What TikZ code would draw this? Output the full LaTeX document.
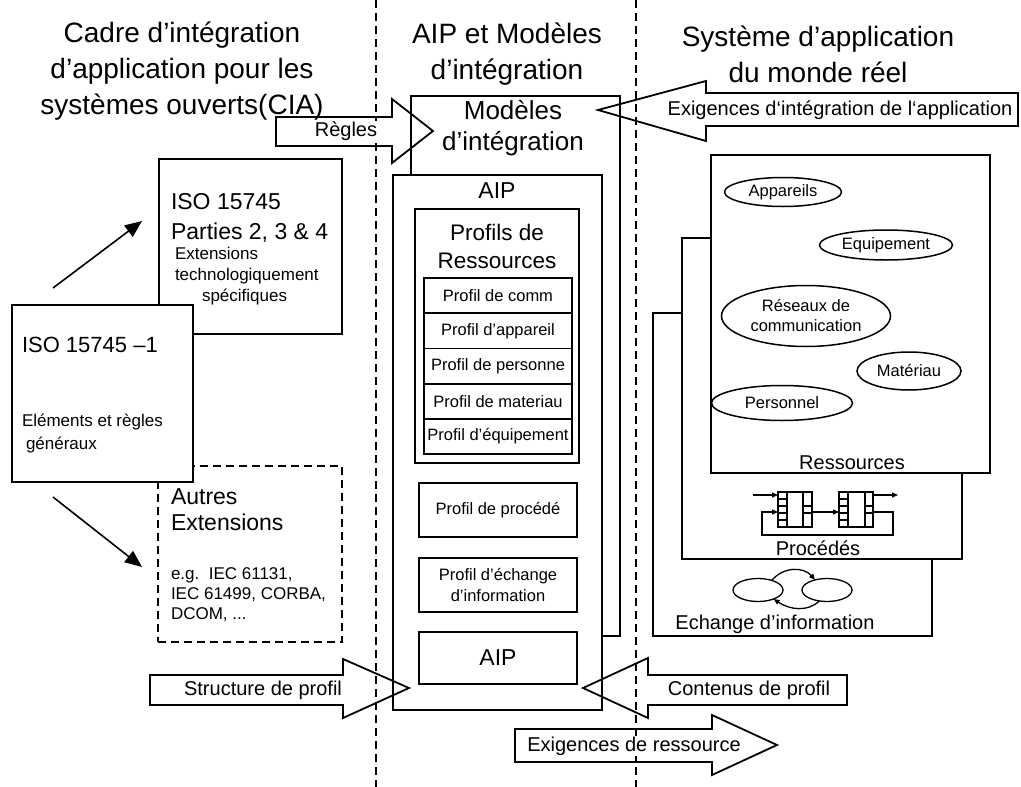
\documentclass[tikz,border=0pt]{standalone}
\usepackage{fontspec}
\setmainfont{Liberation Sans}
\usetikzlibrary{arrows.meta,shapes.geometric}
\newcommand{\fsz}[2]{\fontsize{#1}{#2}\selectfont}

\begin{document}
\begin{tikzpicture}[x=1pt,y=-1pt,inner sep=0pt,outer sep=0pt,
box/.style={draw,rectangle,line width=1.8pt,fill=white,inner sep=0pt},
dashbox/.style={box,dash pattern=on 8pt off 5pt},
sep/.style={line width=1.4pt,dash pattern=on 8pt off 5pt},
ell/.style={draw,ellipse,line width=1.5pt,fill=white,inner sep=0pt,font=\fsz{16.5}{20},align=center},
blockarrow/.style={draw,line width=1.8pt,line join=miter},
arrowlabel/.style={font=\fsz{20}{24},fill=white,inner sep=1pt},
title/.style={font=\fsz{28}{36},align=center},
profil/.style={box,minimum width=148pt,minimum height=35.2pt,font=\fsz{16.5}{20}},
bigarrow/.style={line width=1.6pt,-{Triangle[length=17pt,width=14pt]}},
icon/.style={line width=1.3pt},
tinyarrow/.style={icon,-{Triangle[length=6pt,width=5pt]}}]
\useasboundingbox (0,0) rectangle (1021,787);

% separations
\coordinate (sepL) at (376,0);
\coordinate (sepR) at (636,0);
\draw[sep] (sepL) -- (376,787);
\draw[sep] (sepR) -- (636,787);

% titles
\node[title] (titleL) at (182,71) {Cadre d’intégration\\d’application pour les\\systèmes ouverts(CIA)};
\node[title] (titleM) at (507,54) {AIP et Modèles\\d’intégration};
\node[title] (titleR) at (818,54) {Système d’application\\du monde réel};

% left column
\node[box,minimum width=183pt,minimum height=175pt] (parties) at (250.5,246.5) {};
\node[anchor=west,align=left,font=\fsz{23}{30}] (partiestitle) at (171,218) {ISO 15745\\Parties 2, 3 \& 4};
\node[anchor=west,align=left,font=\fsz{17}{21}] (partiestext) at (175,276) {Extensions\\technologiquement\\\hspace*{27pt}spécifiques};
\node[dashbox,minimum width=184pt,minimum height=176pt] (autres) at (250,554) {};
\node[anchor=west,align=left,font=\fsz{23}{26}] (autrestitle) at (171,510) {Autres\\Extensions};
\node[anchor=west,align=left,font=\fsz{17}{20}] (autrestext) at (171,595) {e.g.\ \ IEC 61131,\\IEC 61499, CORBA,\\DCOM, ...};
\node[box,minimum width=181pt,minimum height=177pt] (iso1) at (102.5,393.5) {};
\node[anchor=west,font=\fsz{22}{26}] (iso1title) at (22,345) {ISO 15745 –1};
\node[anchor=west,align=left,font=\fsz{17}{23}] (iso1text) at (22,434) {Eléments et règles\\\hspace*{4pt}généraux};
\coordinate (upS) at (53,288);
\coordinate (upE) at (142,221);
\coordinate (downS) at (53,497);
\coordinate (downE) at (142,567);
\draw[bigarrow] (upS) -- (upE);
\draw[bigarrow] (downS) -- (downE);

% middle column
\node[draw,line width=1.8pt,minimum width=209pt,minimum height=540pt] (modeles) at (515.5,366) {};
\node[font=\fsz{26}{31},align=center] (modelestext) at (513,128) {Modèles\\d’intégration};
\node[box,minimum width=209pt,minimum height=535pt] (aip) at (497.5,442.5) {};
\node[font=\fsz{23}{26}] (aiptitle) at (497,191) {AIP};
\node[box,minimum width=164pt,minimum height=254pt] (profils) at (497,336) {};
\node[font=\fsz{22.5}{28},align=center] (profilstext) at (497,246) {Profils de\\Ressources};
\node[profil] (comm) at (498,295.6) {Profil de comm};
\node[profil] (appareil) at (498,330.8) {Profil d’appareil};
\node[profil] (personne) at (498,366) {Profil de personne};
\node[profil] (materiau) at (498,401.2) {Profil de materiau};
\node[profil] (equipement) at (498,436.4) {Profil d’équipement};
\node[box,minimum width=158pt,minimum height=54pt,font=\fsz{16.5}{20}] (procede) at (498,510) {Profil de procédé};
\node[box,minimum width=158pt,minimum height=54pt,font=\fsz{16.5}{21},align=center] (echangeinfo) at (498,585) {Profil d’échange\\d’information};
\node[box,minimum width=158pt,minimum height=52pt,font=\fsz{23}{26}] (aipsub) at (498,658) {AIP};

% right column
\node[box,minimum width=279pt,minimum height=323pt] (echange) at (792.5,474.5) {};
\node[box,minimum width=280pt,minimum height=321pt] (procedes) at (822,398.5) {};
\node[box,minimum width=279pt,minimum height=318pt] (ressources) at (850.5,314) {};
\node[font=\fsz{20}{24}] (ressourceslabel) at (852,463) {Ressources};
\node[font=\fsz{20}{24}] (procedeslabel) at (818,548) {Procédés};
\node[font=\fsz{20}{24}] (echangelabel) at (775,624) {Echange d’information};
\node[ell,minimum width=117pt,minimum height=29pt] (appareils) at (783,192) {Appareils};
\node[ell,minimum width=133pt,minimum height=30pt] (equip) at (886,245) {Equipement};
\node[ell,minimum width=169pt,minimum height=61pt] (reseaux) at (806,316) {Réseaux de\\communication};
\node[ell,minimum width=104pt,minimum height=38pt] (materiaux) at (909,371) {Matériau};
\node[ell,minimum width=141pt,minimum height=35pt] (personnel) at (782,403) {Personnel};

% process icon
\node[draw,icon,minimum width=34pt,minimum height=35pt] (procA) at (795,509.5) {};
\node[draw,icon,minimum width=34pt,minimum height=35pt] (procB) at (856,509.5) {};
\draw[icon] (787,492) -- (787,527) (803,492) -- (803,527);
\draw[icon] (848,492) -- (848,527) (865,492) -- (865,527);
\draw[icon] (778,499) -- (787,499) (778,506) -- (787,506) (778,513) -- (787,513) (778,520) -- (787,520);
\draw[icon] (803,506) -- (812,506) (803,513) -- (812,513);
\draw[icon] (839,499) -- (848,499) (839,506) -- (848,506) (839,513) -- (848,513) (839,520) -- (848,520);
\draw[icon] (865,506) -- (873,506) (865,513) -- (873,513);
\coordinate (procin) at (753,495);
\coordinate (procout) at (898,495);
\coordinate (fbR) at (893,535);
\coordinate (fbL) at (762,535);
\draw[tinyarrow] (procin) -- (procin -| procA.west);
\draw[tinyarrow] (procout -| procB.east) -- (procout);
\draw[tinyarrow] ([yshift=-2.5pt]procA.east) -- ([yshift=-2.5pt]procB.west);
\draw[tinyarrow] ([yshift=-2.5pt]procB.east) -| (fbR) -- (fbL) |- ([yshift=-2.5pt]procA.west);

% exchange icon
\node[draw,ellipse,icon,minimum width=50pt,minimum height=23pt] (exA) at (758,590) {};
\node[draw,ellipse,icon,minimum width=50pt,minimum height=23pt] (exB) at (827,590) {};
\draw[tinyarrow] (exA.35) .. controls (784,566) and (804,567) .. (exB.140);
\draw[tinyarrow] (exB.-125) .. controls (808,612) and (790,610) .. (exA.-30);

% block arrows
\draw[blockarrow] (276,117) -- (392,117) -- (392,99) -- (433,131) -- (392,163) -- (392,146) -- (276,146) -- cycle;
\node[arrowlabel] (regles) at (346,131) {Règles};
\draw[blockarrow] (1018,93) -- (706,93) -- (706,81) -- (598,110) -- (706,141) -- (706,126) -- (1018,126) -- cycle;
\node[arrowlabel] (exigint) at (840,110) {Exigences d‘intégration de l‘application};
\draw[blockarrow] (150,675) -- (343,675) -- (343,659) -- (409,688) -- (343,718) -- (343,705) -- (150,705) -- cycle;
\node[arrowlabel] (structure) at (263,690) {Structure de profil};
\draw[blockarrow] (847,675) -- (648,675) -- (648,658) -- (583,688) -- (648,718) -- (648,705) -- (847,705) -- cycle;
\node[arrowlabel] (contenus) at (749,690) {Contenus de profil};
\draw[blockarrow] (515,729) -- (712,729) -- (712,715) -- (777,745) -- (712,775) -- (712,762) -- (515,762) -- cycle;
\node[arrowlabel] (exigres) at (634,746) {Exigences de ressource};
\end{tikzpicture}
\end{document}
